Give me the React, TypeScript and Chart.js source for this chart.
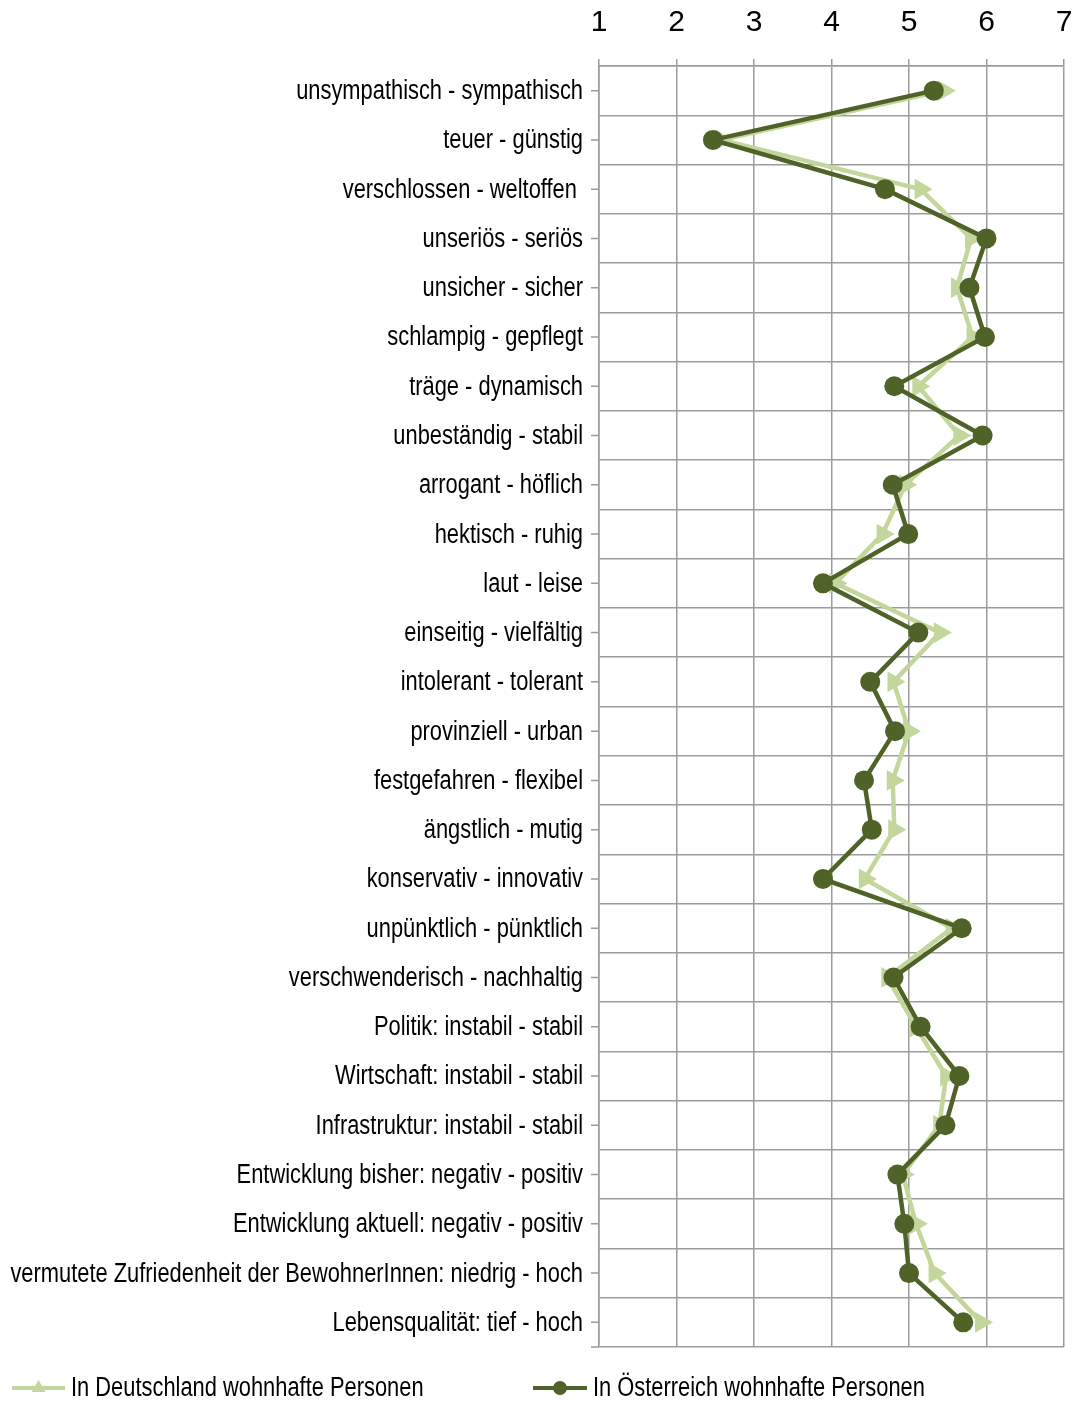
import React, { useEffect, useRef } from "react";
import { Chart, registerables } from "chart.js";

Chart.register(...registerables);

const categories: string[] = [
  "unsympathisch - sympathisch",
  "teuer - günstig",
  "verschlossen - weltoffen ",
  "unseriös - seriös",
  "unsicher - sicher",
  "schlampig - gepflegt",
  "träge - dynamisch",
  "unbeständig - stabil",
  "arrogant - höflich",
  "hektisch - ruhig",
  "laut - leise",
  "einseitig - vielfältig",
  "intolerant - tolerant",
  "provinziell - urban",
  "festgefahren - flexibel",
  "ängstlich - mutig",
  "konservativ - innovativ",
  "unpünktlich - pünktlich",
  "verschwenderisch - nachhaltig",
  "Politik: instabil - stabil",
  "Wirtschaft: instabil - stabil",
  "Infrastruktur: instabil - stabil",
  "Entwicklung bisher: negativ - positiv",
  "Entwicklung aktuell: negativ - positiv",
  "vermutete Zufriedenheit der BewohnerInnen: niedrig - hoch",
  "Lebensqualität: tief - hoch",
];

const deutschland: number[] = [
  5.45, 2.58, 5.15, 5.8, 5.62, 5.82, 5.12, 5.65, 4.95, 4.66, 4.05, 5.4, 4.8,
  5.0, 4.79, 4.81, 4.43, 5.55, 4.72, 5.09, 5.48, 5.39, 4.92, 5.09, 5.33, 5.93,
];

const oesterreich: number[] = [
  5.32, 2.47, 4.69, 6.0, 5.78, 5.98, 4.81, 5.95, 4.79, 4.99, 3.89, 5.12, 4.5,
  4.82, 4.42, 4.52, 3.89, 5.68, 4.8, 5.15, 5.65, 5.47, 4.85, 4.94, 5.0, 5.7,
];

const xTickValues: number[] = [1, 2, 3, 4, 5, 6, 7];

const seriesNames: string[] = [
  "In Deutschland wohnhafte Personen",
  "In Österreich wohnhafte Personen",
];

const LIGHT = "#c3d69b";
const DARK = "#4f6228";
const GRID = "#9c9c9c";
const SANS = '"Liberation Sans", Arial, sans-serif';
const NARROW_SCALE = 0.81;
const LABEL_FONT = `27px ${SANS}`;

const extrasPlugin = {
  id: "extras",
  afterDraw(chart: any) {
    const ctx = chart.ctx;
    const y = chart.scales.y;
    const area = chart.chartArea;
    ctx.save();
    // category tick marks at centers
    ctx.strokeStyle = GRID;
    ctx.lineWidth = 1.5;
    ctx.beginPath();
    for (let i = 0; i < categories.length; i++) {
      const py = y.getPixelForValue(i);
      ctx.moveTo(area.left - 8, py);
      ctx.lineTo(area.left, py);
    }
    ctx.moveTo(area.left - 8, area.bottom);
    ctx.lineTo(area.left, area.bottom);
    ctx.stroke();

    // category labels (condensed)
    ctx.font = LABEL_FONT;
    ctx.fillStyle = "#000";
    ctx.textBaseline = "middle";
    ctx.textAlign = "right";
    for (let i = 0; i < categories.length; i++) {
      const py = y.getPixelForValue(i);
      ctx.save();
      ctx.translate(area.left - 16, py + 1);
      ctx.scale(NARROW_SCALE, 1);
      ctx.fillText(categories[i], 0, 0);
      ctx.restore();
    }

    // legend
    const ly = 1388;
    const items = [
      { x0: 12, x1: 65, text: seriesNames[0], color: LIGHT, style: "triangle" },
      { x0: 533, x1: 587, text: seriesNames[1], color: DARK, style: "circle" },
    ];
    ctx.textAlign = "left";
    for (const it of items) {
      ctx.strokeStyle = it.color;
      ctx.fillStyle = it.color;
      ctx.lineWidth = 4;
      ctx.beginPath();
      ctx.moveTo(it.x0, ly);
      ctx.lineTo(it.x1, ly);
      ctx.stroke();
      const cx = (it.x0 + it.x1) / 2;
      ctx.beginPath();
      if (it.style === "circle") {
        ctx.arc(cx, ly, 7, 0, Math.PI * 2);
      } else {
        const r = 8;
        ctx.moveTo(cx, ly - r);
        ctx.lineTo(cx + r * 0.87, ly + r * 0.5);
        ctx.lineTo(cx - r * 0.87, ly + r * 0.5);
        ctx.closePath();
      }
      ctx.fill();
      ctx.fillStyle = "#000";
      ctx.save();
      ctx.translate(it.x1 + 6, ly + 1);
      ctx.scale(NARROW_SCALE, 1);
      ctx.fillText(it.text, 0, 0);
      ctx.restore();
    }
    ctx.restore();
  },
};

export default function App() {
  const ref = useRef<HTMLCanvasElement | null>(null);
  useEffect(() => {
    document.body.style.margin = "0";
    if (!ref.current) return;
    const chart = new Chart(ref.current, {
      type: "line",
      data: {
        labels: categories,
        datasets: [
          {
            label: seriesNames[0],
            data: deutschland,
            borderColor: LIGHT,
            backgroundColor: LIGHT,
            borderWidth: 4.5,
            pointStyle: "triangle",
            pointRadius: 12,
            pointRotation: 90,
            pointBorderWidth: 0,
            order: 1,
          },
          {
            label: seriesNames[1],
            data: oesterreich,
            borderColor: DARK,
            backgroundColor: DARK,
            borderWidth: 4.5,
            pointStyle: "circle",
            pointRadius: 10,
            pointBorderWidth: 0,
            order: 0,
          },
        ],
      },
      options: {
        indexAxis: "y",
        animation: false,
        responsive: false,
        layout: { padding: { left: 0, right: 11, top: 0, bottom: 56 } },
        plugins: { legend: { display: false }, tooltip: { enabled: false } },
        scales: {
          x: {
            type: "linear",
            position: "top",
            min: xTickValues[0],
            max: xTickValues[xTickValues.length - 1],
            ticks: {
              stepSize: 1,
              color: "#000",
              font: { family: SANS, size: 30 },
              padding: 18,
            },
            grid: { color: GRID, lineWidth: 1.5, tickLength: 7 },
            border: { color: GRID, width: 1.5 },
            afterFit: (s: any) => {
              s.height = 66;
              s.paddingLeft = 0;
              s.paddingRight = 0;
            },
          },
          y: {
            type: "category",
            offset: true,
            grid: { offset: true, drawTicks: false, color: GRID, lineWidth: 1.5 },
            border: { color: GRID, width: 1.5 },
            ticks: { display: false, autoSkip: false },
            afterFit: (s: any) => {
              s.width = 599;
              s.paddingTop = 0;
              s.paddingBottom = 0;
            },
          },
        },
      } as any,
      plugins: [extrasPlugin],
    });
    return () => chart.destroy();
  }, []);
  return (
    <canvas
      ref={ref}
      width={1076}
      height={1403}
      style={{ display: "block", width: 1076, height: 1403 }}
    />
  );
}
